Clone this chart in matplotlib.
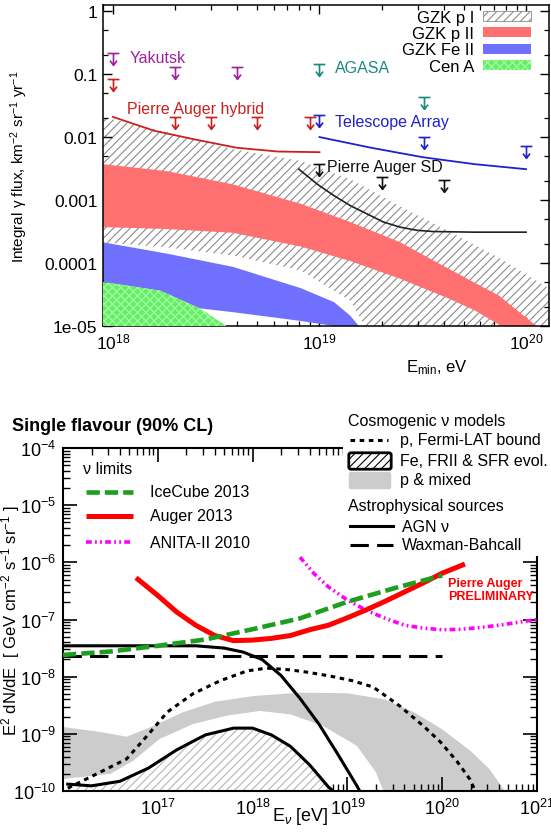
import numpy as np
import matplotlib
matplotlib.use("Agg")
import matplotlib.pyplot as plt
from matplotlib.path import Path
from matplotlib.patches import Patch, Rectangle, FancyBboxPatch
from matplotlib.lines import Line2D
from matplotlib.ticker import LogLocator, NullFormatter

plt.rcParams['font.family'] = ['Liberation Sans', 'DejaVu Sans']
plt.rcParams['mathtext.fontset'] = 'custom'
plt.rcParams['mathtext.rm'] = 'Liberation Sans'
plt.rcParams['mathtext.it'] = 'Liberation Sans:italic'
plt.rcParams['mathtext.bf'] = 'Liberation Sans:bold'
plt.rcParams['hatch.linewidth'] = 0.8

# ---------------- top panel: photon flux limits (log10 E [eV], log10 flux) ----------------
gzk_p1_hi_x = [17.95, 18.26, 18.58, 18.91, 19.15, 19.39, 19.63, 19.87, 20.11]
gzk_p1_hi_y = [-1.68, -1.92, -2.19, -2.38, -2.67, -3.10, -3.50, -3.92, -4.40]
gzk_p1_lo_x = [17.95, 18.26, 18.58, 18.91, 19.15, 19.22, 20.11]
gzk_p1_lo_y = [-3.67, -3.75, -3.88, -4.12, -4.60, -5.0, -5.0]

gzk_p2_hi_x = [17.95, 18.26, 18.58, 18.91, 19.15, 19.39, 19.63, 19.87, 20.05]
gzk_p2_hi_y = [-2.43, -2.54, -2.75, -3.06, -3.35, -3.67, -4.10, -4.52, -5.0]
gzk_p2_lo_x = [17.95, 18.26, 18.58, 18.91, 19.15, 19.39, 19.63, 19.75, 19.88]
gzk_p2_lo_y = [-3.43, -3.46, -3.52, -3.74, -3.97, -4.25, -4.57, -4.75, -5.0]

gzk_fe_hi_x = [17.95, 18.26, 18.58, 18.91, 19.07, 19.15, 19.19]
gzk_fe_hi_y = [-3.67, -3.85, -4.06, -4.40, -4.62, -4.84, -5.0]
gzk_fe_lo_x = [17.95, 18.23, 18.42, 18.58, 18.91, 19.07]
gzk_fe_lo_y = [-4.30, -4.44, -4.72, -4.78, -4.92, -5.0]

cena_x = [17.95, 18.23, 18.42, 18.55]
cena_y = [-4.30, -4.44, -4.72, -5.0]

hybrid_x = [18.0, 18.2, 18.4, 18.6, 18.8, 19.0]
hybrid_y = [-1.68, -1.90, -2.04, -2.17, -2.23, -2.24]
ta_x = [19.0, 19.25, 19.5, 19.75, 20.0]
ta_y = [-2.00, -2.17, -2.32, -2.43, -2.51]
sd_x = [18.9, 18.99, 19.07, 19.15, 19.23, 19.31, 19.39, 19.47, 19.55, 19.75, 20.0]
sd_y = [-2.51, -2.75, -2.93, -3.09, -3.22, -3.35, -3.43, -3.48, -3.50, -3.51, -3.51]

# upper limits (E in eV, flux)
yakutsk_e = [1e18, 2e18, 4e18]
yakutsk_f = [0.22, 0.13, 0.13]
hybrid_e = [1e18, 2e18, 3e18, 5e18, 9e18]
hybrid_f = [0.083, 0.021, 0.021, 0.021, 0.021]
agasa_e = [1e19, 3.2e19]
agasa_f = [0.145, 0.043]
ta_e = [1e19, 3.2e19, 1e20]
ta_f = [0.022, 0.010, 0.0072]
sd_e = [1e19, 2e19, 4e19]
sd_f = [0.0038, 0.0023, 0.0021]

top_yticks = [1e-5, 1e-4, 1e-3, 1e-2, 1e-1, 1]
top_ylabels = ['1e-05', '0.0001', '0.001', '0.01', '0.1', '1']

# ---------------- bottom panel: neutrino limits (log10 E [eV], log10 E2 dN/dE) ----------------
icecube_x = [16.0, 16.5, 17.0, 17.5, 18.0, 18.5, 19.0, 19.5, 20.0]
icecube_y = [-7.62, -7.56, -7.46, -7.35, -7.17, -6.98, -6.69, -6.45, -6.23]
auger_x = [16.77, 17.0, 17.2, 17.4, 17.6, 17.8, 18.0, 18.2, 18.4, 18.6, 18.8,
           19.0, 19.2, 19.4, 19.6, 19.8, 20.0, 20.24]
auger_y = [-6.27, -6.58, -6.87, -7.10, -7.28, -7.37, -7.36, -7.33, -7.28, -7.18, -7.10,
           -6.97, -6.83, -6.68, -6.52, -6.36, -6.19, -6.03]
anita_x = [18.5, 18.65, 18.8, 19.0, 19.2, 19.4, 19.6, 19.8, 20.0, 20.2, 20.4, 20.6, 20.8, 21.0]
anita_y = [-5.91, -6.20, -6.43, -6.66, -6.84, -6.98, -7.10, -7.15, -7.18, -7.17, -7.14, -7.10, -7.05, -7.0]
wb_x = [16.0, 20.0]
wb_y = [-7.64, -7.64]
agn_x = [16.0, 16.5, 17.0, 17.4, 17.7, 17.9, 18.1, 18.3, 18.5, 18.7, 18.9, 19.1, 19.13]
agn_y = [-7.46, -7.46, -7.46, -7.46, -7.50, -7.57, -7.70, -7.98, -8.38, -8.83, -9.36, -9.91, -10.0]
fe_x = [16.05, 16.3, 16.6, 16.9, 17.2, 17.5, 17.8, 18.0, 18.2, 18.4, 18.6, 18.8, 18.85]
fe_y = [-9.88, -9.91, -9.83, -9.60, -9.28, -9.02, -8.90, -8.90, -9.02, -9.22, -9.54, -9.93, -10.0]
mixed_hi_x = [16.0, 16.4, 16.67, 16.9, 17.27, 17.6, 18.0, 18.5, 19.0, 19.4, 19.7, 20.0, 20.3, 20.5, 20.66]
mixed_hi_y = [-8.88, -8.97, -9.05, -8.90, -8.62, -8.44, -8.34, -8.28, -8.29, -8.40, -8.62, -8.92, -9.30, -9.62, -10.0]
mixed_lo_x = [16.0, 16.5, 16.74, 17.02, 17.37, 17.73, 18.08, 18.4, 18.74, 19.1, 19.3, 19.38]
mixed_lo_y = [-9.79, -9.70, -9.47, -9.09, -8.83, -8.68, -8.60, -8.66, -8.86, -9.21, -9.67, -10.0]
fermi_x = [16.05, 16.32, 16.67, 16.89, 17.1, 17.37, 17.66, 17.94, 18.15, 18.39, 18.57, 18.82,
           19.05, 19.27, 19.55, 19.8, 19.98, 20.16, 20.29, 20.35]
fermi_y = [-9.95, -9.73, -9.44, -9.03, -8.62, -8.30, -8.07, -7.90, -7.85, -7.88, -7.92, -7.99,
           -8.07, -8.18, -8.51, -8.86, -9.14, -9.49, -9.79, -10.0]

bot_xticks = [1e16, 1e17, 1e18, 1e19, 1e20, 1e21]
bot_xlabels = ['', r'$10^{17}$', r'$10^{18}$', r'$10^{19}$', r'$10^{20}$', r'$10^{21}$']


W, H = 551, 837
fig = plt.figure(figsize=(W / 100, H / 100), dpi=100)


def fx(px):
    return px / W


def fy(py):
    return 1 - py / H


def band(ax, xu, yu, xl, yl, **kw):
    xs = np.r_[xu, xl[::-1]]
    ys = np.r_[yu, yl[::-1]]
    ax.fill(10 ** xs, 10 ** ys, **kw)


# ================= top panel =================
ax1 = fig.add_axes([fx(103), fy(327), (549 - 103) / W, (327 - 6) / H])
ax1.set_xscale('log')
ax1.set_yscale('log')
ax1.set_xlim(10 ** 17.952, 10 ** 20.111)
ax1.set_ylim(1e-5, 1.25)

hatch_gray = '#8a8a8a'
band(ax1, gzk_p1_hi_x, gzk_p1_hi_y, gzk_p1_lo_x, gzk_p1_lo_y,
     facecolor='white', edgecolor=hatch_gray, hatch='////', linewidth=0, zorder=1)
band(ax1, gzk_p2_hi_x, gzk_p2_hi_y, gzk_p2_lo_x, gzk_p2_lo_y,
     facecolor='#ff7070', edgecolor='none', zorder=2)
band(ax1, gzk_fe_hi_x, gzk_fe_hi_y, gzk_fe_lo_x, gzk_fe_lo_y,
     facecolor='#7070ff', edgecolor='none', zorder=2)
ax1.fill(10 ** np.r_[cena_x, cena_x[0]], 10 ** np.r_[cena_y, -5.0],
         facecolor='#66ee66', edgecolor='#a8ffa8', hatch='xxxx', linewidth=0, zorder=3)

ax1.plot(10 ** np.array(hybrid_x), 10 ** np.array(hybrid_y), color='#cc2020', lw=1.3, zorder=4)
ax1.plot(10 ** np.array(ta_x), 10 ** np.array(ta_y), color='#2020cc', lw=1.3, zorder=4)
ax1.plot(10 ** np.array(sd_x), 10 ** np.array(sd_y), color='#222222', lw=1.2, zorder=4)

# upper-limit marker: bar with downward arrow
ul_path = Path([(-0.5, 0), (0.5, 0), (0, 0), (0, -1), (-0.3, -0.6), (0, -1), (0.3, -0.6)],
               [Path.MOVETO, Path.LINETO, Path.MOVETO, Path.LINETO,
                Path.MOVETO, Path.LINETO, Path.LINETO])

for e, f, c in [(yakutsk_e, yakutsk_f, '#a020a0'), (hybrid_e, hybrid_f, '#cc2020'),
                (agasa_e, agasa_f, '#1a8a80'), (ta_e, ta_f, '#2020cc'), (sd_e, sd_f, '#111111')]:
    ax1.plot(e, f, linestyle='none', marker=ul_path, markersize=17,
             markerfacecolor='none', markeredgecolor=c, markeredgewidth=1.2, zorder=5)

tfs = 11.5
ax1.text(10 ** 18.08, 10 ** -0.73, 'Yakutsk', color='#a020a0', fontsize=tfs, va='center')
ax1.text(10 ** 18.07, 10 ** -1.54, 'Pierre Auger hybrid', color='#cc2020', fontsize=tfs, va='center')
ax1.text(10 ** 19.075, 10 ** -0.89, 'AGASA', color='#1a8a80', fontsize=tfs, va='center')
ax1.text(10 ** 19.075, 10 ** -1.76, 'Telescope Array', color='#2020cc', fontsize=tfs, va='center')
ax1.text(10 ** 19.036, 10 ** -2.46, 'Pierre Auger SD', color='#111111', fontsize=tfs, va='center')

handles = [Patch(facecolor='white', edgecolor=hatch_gray, hatch='////', linewidth=0.6),
           Patch(facecolor='#ff7070', edgecolor='none'),
           Patch(facecolor='#7070ff', edgecolor='none'),
           Patch(facecolor='#66ee66', edgecolor='#a8ffa8', hatch='xxxx', linewidth=0)]
ax1.legend(handles, ['GZK p I', 'GZK p II', 'GZK Fe II', 'Cen A'], loc='upper right',
           bbox_to_anchor=(0.96, 0.985), frameon=False, markerfirst=False, fontsize=12,
           handlelength=2.9, handleheight=0.55, labelspacing=0.08, borderaxespad=0,
           borderpad=0, handletextpad=0.5)

ax1.set_yticks(top_yticks, top_ylabels)
ax1.yaxis.set_minor_locator(LogLocator(base=10, subs=(2, 5), numticks=20))
ax1.yaxis.set_minor_formatter(NullFormatter())
ax1.set_xticks([1e18, 1e19, 1e20], [r'$10^{18}$', r'$10^{19}$', r'$10^{20}$'])
ax1.xaxis.set_minor_locator(LogLocator(base=10, subs=np.arange(2, 10), numticks=20))
ax1.xaxis.set_minor_formatter(NullFormatter())
ax1.tick_params(which='both', direction='in', top=True, right=True)
ax1.tick_params(which='major', length=6.5, width=1.0, labelsize=12.5, pad=4)
ax1.tick_params(which='minor', length=3.5, width=0.9)
for s in ax1.spines.values():
    s.set_linewidth(1.1)

ax1.set_ylabel(r'Integral γ flux, km$^{-2}$ sr$^{-1}$ yr$^{-1}$', fontsize=11)
ax1.yaxis.set_label_coords(-0.164, 0.5)
ax1.set_xlabel(r'E$_{\mathrm{min}}$, eV', fontsize=12, va='center')
ax1.xaxis.set_label_coords(0.749, -0.128)

# ================= bottom panel =================
ax2 = fig.add_axes([fx(63), fy(792), (537 - 63) / W, (792 - 449) / H])
ax2.set_xscale('log')
ax2.set_yscale('log')
ax2.set_xlim(1e16, 1e21)
ax2.set_ylim(1e-10, 1e-4)

band(ax2, mixed_hi_x, mixed_hi_y, mixed_lo_x, mixed_lo_y,
     facecolor='#cccccc', edgecolor='none', zorder=1)
ax2.fill_between(10 ** np.array(fe_x), 1e-10, 10 ** np.array(fe_y), facecolor='white',
                 edgecolor='#b5b5b5', hatch='////', linewidth=0, zorder=2)
ax2.plot(10 ** np.array(fe_x), 10 ** np.array(fe_y), color='black', lw=2.2, zorder=3)
ax2.plot(10 ** np.array(fermi_x), 10 ** np.array(fermi_y), color='black', lw=2.2,
         linestyle=(0, (1.5, 1.5)), zorder=3)
ax2.plot(10 ** np.array(agn_x), 10 ** np.array(agn_y), color='black', lw=2.2, zorder=3)
ax2.plot(10 ** np.array(wb_x), 10 ** np.array(wb_y), color='black', lw=2.2,
         linestyle=(0, (6, 2.7)), zorder=3)
ax2.plot(10 ** np.array(anita_x), 10 ** np.array(anita_y), color='#ff00ff', lw=2.6,
         linestyle=(0, (1.6, 0.9, 0.5, 0.9, 0.5, 0.9)), zorder=4)
ax2.plot(10 ** np.array(auger_x), 10 ** np.array(auger_y), color='#ff0000', lw=3.6,
         solid_capstyle='butt', zorder=5)
ax2.plot(10 ** np.array(icecube_x), 10 ** np.array(icecube_y), color='#1e9e1e', lw=3.3,
         linestyle=(0, (2.9, 1.1)), zorder=6)

ax2.text(10 ** 20.06, 10 ** -6.47, 'Pierre Auger\nPRELIMINARY', color='#ff0000',
         fontsize=9, fontweight='bold', va='center', ha='left', linespacing=1.15, zorder=7)

ax2.set_xticks(bot_xticks, bot_xlabels)
ax2.xaxis.set_minor_locator(LogLocator(base=10, subs=np.arange(2, 10), numticks=30))
ax2.xaxis.set_minor_formatter(NullFormatter())
ax2.yaxis.set_major_locator(LogLocator(base=10, numticks=20))
ax2.yaxis.set_minor_locator(LogLocator(base=10, subs=np.arange(2, 10), numticks=30))
ax2.yaxis.set_minor_formatter(NullFormatter())
ax2.tick_params(which='both', direction='in', top=True, right=True)
ax2.tick_params(which='major', length=10, width=1.2, labelsize=13, pad=5)
ax2.tick_params(which='minor', length=5, width=1.0)
for s in ax2.spines.values():
    s.set_linewidth(1.5)

ax2.set_ylabel(r'E$^2$ dN/dE  [ GeV cm$^{-2}$ s$^{-1}$ sr$^{-1}$ ]', fontsize=12)
ax2.yaxis.set_label_coords(-0.086, 0.5)
ax2.set_xlabel(r'E$_\nu$ [eV]', fontsize=13, va='center')
ax2.xaxis.set_label_coords(0.5, -0.072)

fig.text(fx(12), fy(427), 'Single flavour (90% CL)', fontsize=13, fontweight='bold', va='center')

# left legend (neutrino limits)
fs = 11.5
fig.text(fx(83), fy(470), 'ν limits', fontsize=fs, va='center')
left_rows = [
    (493, 'IceCube 2013', dict(color='#1e9e1e', lw=3.3, linestyle=(0, (2.9, 1.1)))),
    (517, 'Auger 2013', dict(color='#ff0000', lw=3.6, solid_capstyle='butt')),
    (543, 'ANITA-II 2010', dict(color='#ff00ff', lw=2.6, linestyle=(0, (1.6, 0.9, 0.5, 0.9, 0.5, 0.9)))),
]
for y, lab, kw in left_rows:
    fig.add_artist(Line2D([fx(86), fx(133)], [fy(y), fy(y)], transform=fig.transFigure, zorder=6, **kw))
    fig.text(fx(150), fy(y), lab, fontsize=fs, va='center', zorder=6)

# right legend (models), sits over the top-right of the frame
fig.add_artist(Rectangle((fx(343), fy(557)), (W - 343) / W, (557 - 403) / H,
                         transform=fig.transFigure, facecolor='white', edgecolor='none', zorder=5))
fig.text(fx(348), fy(422), 'Cosmogenic ν models', fontsize=fs, va='center', zorder=6)
fig.add_artist(Line2D([fx(350), fx(388)], [fy(441), fy(441)], transform=fig.transFigure,
                      color='black', lw=2.2, linestyle=(0, (1.5, 1.5)), zorder=6))
fig.text(fx(400), fy(441), 'p, Fermi-LAT bound', fontsize=fs, va='center', zorder=6)
fig.add_artist(FancyBboxPatch((fx(351), fy(468)), (389 - 351) / W, (468 - 456) / H,
                              boxstyle='round,pad=0.004', mutation_aspect=W / H,
                              transform=fig.transFigure, facecolor='white', edgecolor='black',
                              hatch='////', linewidth=2.0, zorder=6))
fig.text(fx(400), fy(462), 'Fe, FRII & SFR evol.', fontsize=fs, va='center', zorder=6)
fig.add_artist(FancyBboxPatch((fx(351), fy(488)), (389 - 351) / W, (488 - 475) / H,
                              boxstyle='round,pad=0.004', mutation_aspect=W / H,
                              transform=fig.transFigure, facecolor='#cccccc', edgecolor='none',
                              zorder=6))
fig.text(fx(400), fy(481), 'p & mixed', fontsize=fs, va='center', zorder=6)
fig.text(fx(348), fy(507), 'Astrophysical sources', fontsize=fs, va='center', zorder=6)
fig.add_artist(Line2D([fx(350), fx(393)], [fy(527), fy(527)], transform=fig.transFigure,
                      color='black', lw=2.2, zorder=6))
fig.text(fx(402), fy(527), 'AGN ν', fontsize=fs, va='center', zorder=6)
fig.add_artist(Line2D([fx(350), fx(393)], [fy(546), fy(546)], transform=fig.transFigure,
                      color='black', lw=2.2, linestyle=(0, (6, 2.7)), zorder=6))
fig.text(fx(402), fy(546), 'Waxman-Bahcall', fontsize=fs, va='center', zorder=6)

fig.savefig('out.png', dpi=100)
